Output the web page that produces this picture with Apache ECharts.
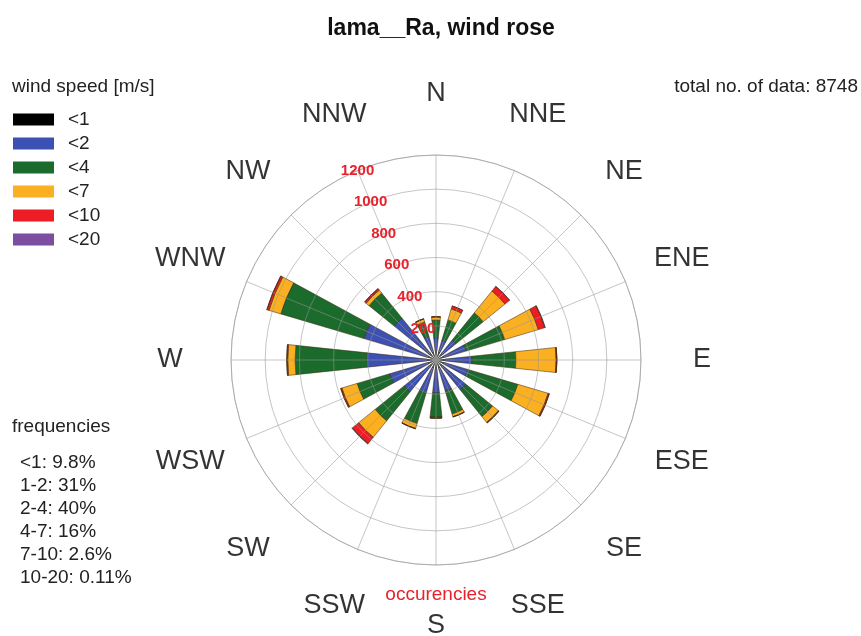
<!DOCTYPE html>
<html>
<head>
<meta charset="utf-8">
<script src="https://cdn.jsdelivr.net/npm/echarts@6/dist/echarts.min.js"></script>
<style>
  html, body { margin: 0; padding: 0; background: #ffffff; }
  #chart { width: 861px; height: 636px; }
</style>
</head>
<body>
<div id="chart"></div>
<script>
// Wind directions, clockwise from north
const directions = ['N', 'NNE', 'NE', 'ENE', 'E', 'ESE', 'SE', 'SSE', 'S', 'SSW', 'SW', 'WSW', 'W', 'WNW', 'NW', 'NNW'];

// Wind speed classes [m/s] and their colours
const speedClasses = ['<1', '<2', '<4', '<7', '<10', '<20'];
const speedColors = ['#000000', '#3d50b4', '#1b6b2d', '#fbb022', '#ee1c25', '#7b4ea2'];

// Occurrences per direction for each speed class
const speedBelow1  = [52, 52, 52, 52, 52, 52, 52, 52, 52, 52, 52, 52, 52, 52, 52, 52];
const speed1to2    = [78, 68, 98, 131, 159, 143, 172, 137, 141, 148, 189, 231, 352, 388, 263, 93];
const speed2to4    = [104, 125, 206, 237, 257, 305, 203, 141, 142, 188, 218, 199, 421, 508, 190, 87];
const speed4to7    = [18, 67, 164, 205, 235, 185, 43, 16, 5, 30, 124, 93, 43, 72, 22, 18];
const speed7to10   = [2, 18, 34, 40, 5, 7, 5, 2, 1, 2, 48, 7, 6, 12, 11, 2];
const speed10to20  = [0, 0, 2, 3, 0, 0, 0, 0, 0, 0, 3, 0, 0, 2, 0, 0];
const speedSeries = [speedBelow1, speed1to2, speed2to4, speed4to7, speed7to10, speed10to20];

// Radial scale
const radiusMax = 1200;
const radiusStep = 200;

// Summary texts
const totalCount = 8748;
const frequencyLines = ['<1: 9.8%', '1-2: 31%', '2-4: 40%', '4-7: 16%', '7-10: 2.6%', '10-20: 0.11%'];

const FONT = "'Liberation Sans', Arial, Helvetica, sans-serif";
const GRID = 'rgba(150,150,150,0.55)';
const CENTER = [436, 360];
const RADIUS = 205;
// compass labels sit a little outside the outer ring
const compassLabelRadius = radiusMax * 266 / RADIUS;

const chart = echarts.init(document.getElementById('chart'), null, { renderer: 'canvas' });

const hidden = { show: false };

const barSeries = speedClasses.map((name, k) => ({
  name: name,
  type: 'bar',
  coordinateSystem: 'polar',
  polarIndex: 0,
  stack: 'wind',
  barWidth: '53%',
  data: speedSeries[k],
  itemStyle: {
    color: speedColors[k],
    borderColor: 'rgba(60,40,10,0.75)',
    borderWidth: k === 0 ? 0 : 0.7
  },
  emphasis: { disabled: true },
  z: 2
}));

const option = {
  animation: false,
  backgroundColor: '#ffffff',
  textStyle: { fontFamily: FONT },
  title: {
    text: 'lama__Ra, wind rose',
    left: 436,
    top: 12,
    textAlign: 'center',
    textStyle: { fontFamily: FONT, fontSize: 23, fontWeight: 'bold', color: '#111111' }
  },
  legend: {
    data: speedClasses,
    orient: 'vertical',
    left: 8,
    top: 105,
    icon: 'rect',
    itemWidth: 41,
    itemHeight: 12,
    itemGap: 5,
    selectedMode: false,
    itemStyle: { borderWidth: 0 },
    textStyle: { fontFamily: FONT, fontSize: 19, lineHeight: 18, color: '#222222', padding: [0, 0, 0, 9] }
  },
  polar: [
    { center: CENTER, radius: RADIUS },
    { center: CENTER, radius: RADIUS },
    { center: CENTER, radius: RADIUS }
  ],
  angleAxis: [
    {
      polarIndex: 0, type: 'category', data: directions,
      startAngle: 90 + 360 / directions.length / 2,
      axisLine: hidden, axisTick: hidden, axisLabel: hidden, splitLine: hidden
    },
    {
      polarIndex: 1, type: 'value', min: 0, max: 360, interval: 360 / directions.length,
      startAngle: 90, z: 5,
      axisLine: { show: true, lineStyle: { color: GRID, width: 1 } },
      axisTick: hidden, axisLabel: hidden,
      splitLine: { show: true, lineStyle: { color: GRID, width: 1 } }
    },
    {
      polarIndex: 2, type: 'value', min: 0, max: 360,
      startAngle: 90 + 360 / directions.length,
      axisLine: hidden, axisTick: hidden, axisLabel: hidden, splitLine: hidden
    }
  ],
  radiusAxis: [
    {
      polarIndex: 0, min: 0, max: radiusMax,
      axisLine: hidden, axisTick: hidden, axisLabel: hidden, splitLine: hidden
    },
    {
      polarIndex: 1, min: 0, max: radiusMax, interval: radiusStep, z: 5,
      axisLine: hidden, axisTick: hidden, axisLabel: hidden,
      splitLine: { show: true, lineStyle: { color: GRID, width: 1 } }
    },
    {
      polarIndex: 2, min: 0, max: radiusMax, interval: radiusStep, z: 10,
      axisLine: hidden, axisTick: hidden, splitLine: hidden,
      axisLabel: {
        show: true, margin: 0, align: 'center', verticalAlign: 'middle',
        showMinLabel: false,
        formatter: (v) => String(v),
        color: '#e8222b', fontFamily: FONT, fontSize: 15, fontWeight: 'bold'
      }
    }
  ],
  series: barSeries.concat([{
    name: 'compass',
    type: 'scatter',
    coordinateSystem: 'polar',
    polarIndex: 1,
    clip: false,
    silent: true,
    symbolSize: 1,
    itemStyle: { color: 'rgba(0,0,0,0)' },
    label: {
      show: true, position: 'inside', formatter: '{b}',
      fontFamily: FONT, fontSize: 27, color: '#000000', textBorderWidth: 0
    },
    data: directions.map((d, i) => ({ name: d, value: [compassLabelRadius, i * 360 / directions.length] })),
    z: 6
  }]),
  graphic: [
    {
      type: 'text', x: 12, y: 87,
      style: { text: 'wind speed [m/s]', font: '19px ' + FONT, fill: '#222222', verticalAlign: 'middle' }
    },
    {
      type: 'text', x: 858, y: 87,
      style: { text: 'total no. of data: ' + totalCount, font: '19px ' + FONT, fill: '#222222', align: 'right', verticalAlign: 'middle' }
    },
    {
      type: 'text', x: 12, y: 427,
      style: { text: 'frequencies', font: '19px ' + FONT, fill: '#222222', verticalAlign: 'middle' }
    },
    {
      type: 'text', x: 20, y: 451,
      style: { text: frequencyLines.join('\n'), font: '19px ' + FONT, lineHeight: 23, fill: '#222222', verticalAlign: 'top' }
    },
    {
      type: 'text', x: 436, y: 595,
      style: { text: 'occurencies', font: '19px ' + FONT, fill: '#e8222b', align: 'center', verticalAlign: 'middle' }
    }
  ]
};

chart.setOption(option);
</script>
</body>
</html>
